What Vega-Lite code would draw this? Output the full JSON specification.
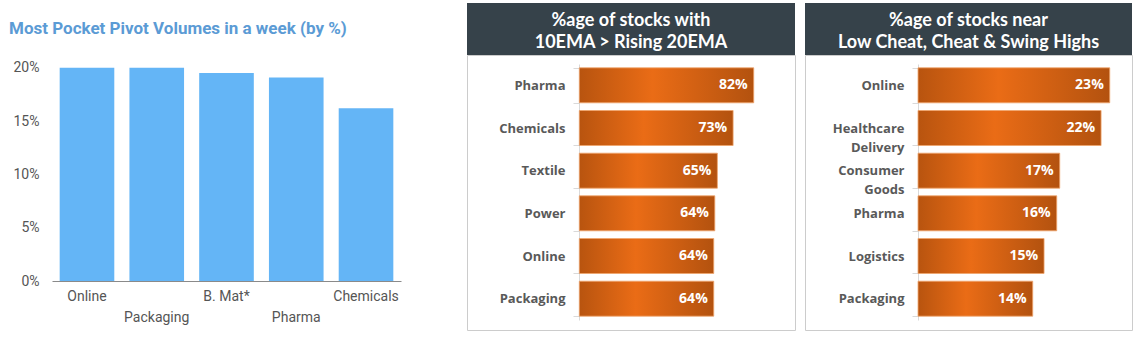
{
  "$schema": "https://vega.github.io/schema/vega-lite/v6.json",
  "padding": {"left": 9, "top": 3, "right": 5, "bottom": 5},
  "background": "white",
  "config": {"view": {"stroke": null}, "font": "Roboto"},
  "spacing": 65,
  "hconcat": [
    {
      "width": 349,
      "height": 278,
      "title": {
        "text": "Most Pocket Pivot Volumes in a week (by %)",
        "anchor": "start",
        "frame": "bounds",
        "baseline": "alphabetic",
        "offset": -48,
        "dx": -4,
        "font": "Roboto",
        "fontSize": 17,
        "fontWeight": "bold",
        "color": "#5b9bd5"
      },
      "data": {
        "values": [
          {"sector": "Online", "pct": 0.2},
          {"sector": "Packaging", "pct": 0.2},
          {"sector": "B. Mat*", "pct": 0.195},
          {"sector": "Pharma", "pct": 0.1908},
          {"sector": "Chemicals", "pct": 0.162}
        ]
      },
      "mark": {"type": "bar", "color": "#64b5f6"},
      "encoding": {
        "x": {
          "field": "sector",
          "type": "nominal",
          "sort": null,
          "scale": {"paddingInner": 0.217, "paddingOuter": 0.11},
          "axis": {
            "title": null,
            "labelAngle": 0,
            "ticks": false,
            "domainColor": "#8a8a8a",
            "labelColor": "#555555",
            "labelFont": "Roboto",
            "labelFontSize": 14,
            "labelPadding": 8,
            "labelLineHeight": 21,
            "labelOverlap": false,
            "labelBound": false,
            "labelExpr": "indexof(['Packaging','Pharma'], datum.value) >= 0 ? ['', datum.label] : datum.label"
          }
        },
        "y": {
          "field": "pct",
          "type": "quantitative",
          "scale": {"domain": [0, 0.2607], "nice": false},
          "axis": {
            "title": null,
            "values": [0, 0.05, 0.1, 0.15, 0.2],
            "format": ".0%",
            "grid": false,
            "domain": false,
            "ticks": false,
            "labelPadding": 13,
            "labelColor": "#555555",
            "labelFont": "Roboto",
            "labelFontSize": 14
          }
        }
      }
    },
    {
      "spacing": 8,
      "hconcat": [
        {
          "spacing": 0,
          "bounds": "flush",
          "vconcat": [
            {
              "width": 328,
              "height": 52,
              "view": {"fill": "#36424a", "stroke": null},
              "data": {"values": [{"h": ["%age of stocks with", "10EMA > Rising 20EMA"]}]},
              "mark": {"type": "text", "align": "center", "baseline": "middle", "dy": -8, "color": "white", "font": "Lato", "fontSize": 18, "fontWeight": "bold", "lineHeight": 22},
              "encoding": {"text": {"field": "h"}}
            },
            {
              "width": 328,
              "height": 275,
              "view": {"fill": "white", "stroke": "#cccccc"},
              "data": {
                "values": [
                  {"sector": "Pharma", "v": 82, "lab": "82%"},
                  {"sector": "Chemicals", "v": 72.3, "lab": "73%"},
                  {"sector": "Textile", "v": 64.9, "lab": "65%"},
                  {"sector": "Power", "v": 63.7, "lab": "64%"},
                  {"sector": "Online", "v": 63.2, "lab": "64%"},
                  {"sector": "Packaging", "v": 63.2, "lab": "64%"}
                ]
              },
              "encoding": {
                "y": {
                  "field": "sector",
                  "type": "nominal",
                  "sort": null,
                  "scale": {"range": [9, 265], "paddingInner": 0.18, "paddingOuter": 0.09},
                  "axis": {
                    "title": null,
                    "offset": -112,
                    "domainColor": "#d9d9d9",
                    "tickColor": "#d9d9d9",
                    "tickSize": 6,
                    "tickBand": "extent",
                    "labelPadding": 8,
                    "labelFont": "Open Sans",
                    "labelFontSize": 13,
                    "labelFontWeight": "bold",
                    "labelColor": "#595959"
                  }
                },
                "x": {
                  "field": "v",
                  "type": "quantitative",
                  "scale": {"domain": [-52.8, 101.4], "nice": false, "zero": false},
                  "axis": null
                }
              },
              "layer": [
                {
                  "mark": {
                    "type": "bar",
                    "stroke": "#f0a46c",
                    "strokeWidth": 0.8,
                    "color": {
                      "gradient": "linear",
                      "x1": 0, "y1": 0, "x2": 1, "y2": 0,
                      "stops": [
                        {"offset": 0, "color": "#b8540f"},
                        {"offset": 0.42, "color": "#ea6c16"},
                        {"offset": 1, "color": "#b3520f"}
                      ]
                    }
                  }
                },
                {
                  "mark": {"type": "text", "align": "right", "dx": -6, "color": "white", "font": "Open Sans", "fontSize": 14, "fontWeight": "bold"},
                  "encoding": {"text": {"field": "lab"}}
                }
              ]
            }
          ]
        },
        {
          "spacing": 0,
          "bounds": "flush",
          "vconcat": [
            {
              "width": 327,
              "height": 52,
              "view": {"fill": "#36424a", "stroke": null},
              "data": {"values": [{"h": ["%age of stocks near", "Low Cheat, Cheat & Swing Highs"]}]},
              "mark": {"type": "text", "align": "center", "baseline": "middle", "dy": -8, "color": "white", "font": "Lato", "fontSize": 18, "fontWeight": "bold", "lineHeight": 22},
              "encoding": {"text": {"field": "h"}}
            },
            {
              "width": 327,
              "height": 275,
              "view": {"fill": "white", "stroke": "#cccccc"},
              "data": {
                "values": [
                  {"sector": "Online", "v": 23, "lab": "23%"},
                  {"sector": "Healthcare Delivery", "v": 21.96, "lab": "22%"},
                  {"sector": "Consumer Goods", "v": 17.0, "lab": "17%"},
                  {"sector": "Pharma", "v": 16.64, "lab": "16%"},
                  {"sector": "Logistics", "v": 15.12, "lab": "15%"},
                  {"sector": "Packaging", "v": 13.76, "lab": "14%"}
                ]
              },
              "encoding": {
                "y": {
                  "field": "sector",
                  "type": "nominal",
                  "sort": null,
                  "scale": {"range": [9, 265], "paddingInner": 0.18, "paddingOuter": 0.09},
                  "axis": {
                    "title": null,
                    "offset": -113,
                    "domainColor": "#d9d9d9",
                    "tickColor": "#d9d9d9",
                    "tickSize": 6,
                    "tickBand": "extent",
                    "labelPadding": 8,
                    "labelFont": "Open Sans",
                    "labelFontSize": 13,
                    "labelFontWeight": "bold",
                    "labelColor": "#595959",
                    "labelLineHeight": 19,
                    "labelExpr": "split(datum.label, ' ')"
                  }
                },
                "x": {
                  "field": "v",
                  "type": "quantitative",
                  "scale": {"domain": [-13.56, 25.67], "nice": false, "zero": false},
                  "axis": null
                }
              },
              "layer": [
                {
                  "mark": {
                    "type": "bar",
                    "stroke": "#f0a46c",
                    "strokeWidth": 0.8,
                    "color": {
                      "gradient": "linear",
                      "x1": 0, "y1": 0, "x2": 1, "y2": 0,
                      "stops": [
                        {"offset": 0, "color": "#b8540f"},
                        {"offset": 0.42, "color": "#ea6c16"},
                        {"offset": 1, "color": "#b3520f"}
                      ]
                    }
                  }
                },
                {
                  "mark": {"type": "text", "align": "right", "dx": -6, "color": "white", "font": "Open Sans", "fontSize": 14, "fontWeight": "bold"},
                  "encoding": {"text": {"field": "lab"}}
                }
              ]
            }
          ]
        }
      ]
    }
  ]
}
